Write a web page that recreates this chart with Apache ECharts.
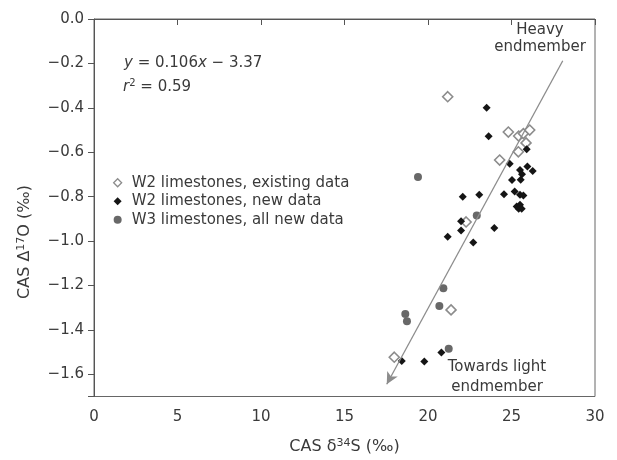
<!DOCTYPE html>
<html><head><meta charset="utf-8">
<script src="https://cdn.jsdelivr.net/npm/echarts@6/dist/echarts.min.js"></script>
<style>html,body{margin:0;padding:0;background:#fff}#c{width:617px;height:460px}</style>
</head><body><div id="c"></div>
<script>
// ---- data ----
const xTickValues = [0, 5, 10, 15, 20, 25, 30];
const yTickValues = [0, -0.2, -0.4, -0.6, -0.8, -1.0, -1.2, -1.4, -1.6];
const seriesNames = ['W2 limestones, existing data', 'W2 limestones, new data', 'W3 limestones, all new data'];
const w2Existing = [
  [21.18, -0.350], [24.81, -0.509], [25.43, -0.527], [25.71, -0.516], [26.09, -0.500],
  [25.87, -0.558], [25.41, -0.598], [24.29, -0.635], [22.28, -0.914], [21.38, -1.310],
  [17.98, -1.523]
];
const w2New = [
  [23.51, -0.400], [23.63, -0.528], [25.91, -0.587], [24.89, -0.652], [25.95, -0.664],
  [25.51, -0.680], [26.27, -0.685], [25.63, -0.699], [25.03, -0.725], [25.55, -0.724],
  [24.55, -0.789], [25.19, -0.777], [25.51, -0.792], [25.71, -0.795], [23.07, -0.792],
  [22.08, -0.800], [25.31, -0.844], [25.51, -0.837], [25.43, -0.855], [25.61, -0.855],
  [21.98, -0.911], [21.98, -0.952], [23.97, -0.941], [21.18, -0.981], [22.71, -1.007],
  [20.80, -1.502], [19.78, -1.542], [18.43, -1.540]
];
const w3 = [
  [19.40, -0.711], [22.92, -0.885], [20.92, -1.213], [20.68, -1.292], [18.64, -1.329],
  [18.74, -1.361], [21.24, -1.485]
];
const mixingLine = [[28.07, -0.188], [17.53, -1.645]];
const xRange = [0, 30];
const yRange = [-1.7, 0];

// ---- chart ----
const FONT = "'DejaVu Sans', 'Noto Sans', sans-serif";
const TXT = '#3a3a3a';
const FS = 15;
const FT = 16;
const chart = echarts.init(document.getElementById('c'), null, {renderer: 'canvas'});
const fmtY = v => (v < 0 ? '\u2212' : '') + Math.abs(v).toFixed(1);

chart.setOption({
  animation: false,
  backgroundColor: '#fff',
  textStyle: {fontFamily: FONT},
  grid: {left: 94, top: 19, right: 22, bottom: 61, show: true, borderColor: '#666', borderWidth: 1},
  xAxis: {
    type: 'value', min: xRange[0], max: xRange[1],
    name: '{n|CAS δ}{s|34}{n|S (‰)}', nameLocation: 'middle', nameGap: 41,
    nameTextStyle: {rich: {
      n: {fontSize: FT, color: TXT, fontFamily: FONT, lineHeight: 19, verticalAlign: 'middle'},
      s: {fontSize: 11, color: TXT, fontFamily: FONT, lineHeight: 19, verticalAlign: 'top'}
    }},
    axisLine: {show: true, lineStyle: {color: '#555', width: 1}},
    axisTick: {show: true, inside: false, length: 6, lineStyle: {color: '#555'}, customValues: xTickValues},
    axisLabel: {customValues: xTickValues, fontSize: FS, color: TXT, fontFamily: FONT, margin: 13},
    splitLine: {show: false}
  },
  yAxis: {
    type: 'value', min: yRange[0], max: yRange[1],
    axisLine: {show: true, lineStyle: {color: '#555', width: 1}},
    axisTick: {show: true, inside: false, length: 6, lineStyle: {color: '#555'}, customValues: yTickValues.concat([yRange[0]])},
    axisLabel: {customValues: yTickValues, fontSize: FS, color: TXT, fontFamily: FONT, margin: 10, formatter: fmtY},
    splitLine: {show: false}
  },
  legend: {
    orient: 'vertical', left: 113, top: 174, padding: 0, itemGap: 1,
    itemWidth: 8, itemHeight: 8,
    textStyle: {fontSize: FS, color: TXT, fontFamily: FONT, lineHeight: 17.5, padding: [0, 0, 0, 5]},
    data: [
      {name: seriesNames[0], icon: 'diamond', itemStyle: {color: '#fff', borderColor: '#8c8c8c', borderWidth: 1.3}},
      {name: seriesNames[1], icon: 'diamond', itemStyle: {color: '#151515', borderWidth: 0}},
      {name: seriesNames[2], icon: 'circle', itemStyle: {color: '#686868', borderWidth: 0}}
    ]
  },
  series: [
    {
      type: 'scatter', name: 'mixing', data: [], z: 1, silent: true,
      markLine: {
        silent: true, animation: false, symbol: ['none', 'arrow'], symbolSize: [9, 12],
        lineStyle: {color: '#8c8c8c', width: 1.3, type: 'solid'},
        label: {show: false},
        data: [[{coord: mixingLine[0]}, {coord: mixingLine[1]}]]
      }
    },
    {
      type: 'scatter', name: seriesNames[0], data: w2Existing, symbol: 'diamond', symbolSize: 10, z: 3,
      itemStyle: {color: '#fff', borderColor: '#8c8c8c', borderWidth: 1.6, opacity: 1}
    },
    {
      type: 'scatter', name: seriesNames[1], data: w2New, symbol: 'diamond', symbolSize: 8, z: 4,
      itemStyle: {color: '#151515', opacity: 1}
    },
    {
      type: 'scatter', name: seriesNames[2], data: w3, symbol: 'circle', symbolSize: 8, z: 4,
      itemStyle: {color: '#686868', opacity: 1}
    }
  ],
  graphic: [
    {type: 'text', x: 124, y: 63, style: {
      text: '{i|y}{n| = 0.106}{i|x}{n| \u2212 3.37}', align: 'left', verticalAlign: 'middle',
      textAlign: 'left', textVerticalAlign: 'middle',
      rich: {
        i: {fontSize: FS, fontStyle: 'italic', fill: TXT, fontFamily: FONT, lineHeight: 18},
        n: {fontSize: FS, fill: TXT, fontFamily: FONT, lineHeight: 18}
      }}},
    {type: 'text', x: 123, y: 87, style: {
      text: '{i|r}{s|2}{n| = 0.59}', align: 'left', verticalAlign: 'middle',
      textAlign: 'left', textVerticalAlign: 'middle',
      rich: {
        i: {fontSize: FS, fontStyle: 'italic', fill: TXT, fontFamily: FONT, lineHeight: 18, verticalAlign: 'middle'},
        s: {fontSize: 10, fill: TXT, fontFamily: FONT, lineHeight: 18, verticalAlign: 'top'},
        n: {fontSize: FS, fill: TXT, fontFamily: FONT, lineHeight: 18, verticalAlign: 'middle'}
      }}},
    {type: 'text', x: 540, y: 39, style: {
      text: 'Heavy\nendmember', align: 'center', verticalAlign: 'middle',
      textAlign: 'center', textVerticalAlign: 'middle',
      fontSize: FS, fontFamily: FONT, fill: TXT, lineHeight: 17}},
    {type: 'text', x: 497, y: 377, style: {
      text: 'Towards light\nendmember', align: 'center', verticalAlign: 'middle',
      textAlign: 'center', textVerticalAlign: 'middle',
      fontSize: FS, fontFamily: FONT, fill: TXT, lineHeight: 20}},
    {type: 'text', x: 25, y: 242, rotation: Math.PI / 2, style: {
      text: '{n|CAS Δ}{s|17}{n|O (‰)}', align: 'center', verticalAlign: 'middle',
      textAlign: 'center', textVerticalAlign: 'middle',
      rich: {
        n: {fontSize: FT, fill: TXT, fontFamily: FONT, lineHeight: 19, verticalAlign: 'middle'},
        s: {fontSize: 11, fill: TXT, fontFamily: FONT, lineHeight: 19, verticalAlign: 'top'}
      }}}
  ]
});
</script>
</body></html>
